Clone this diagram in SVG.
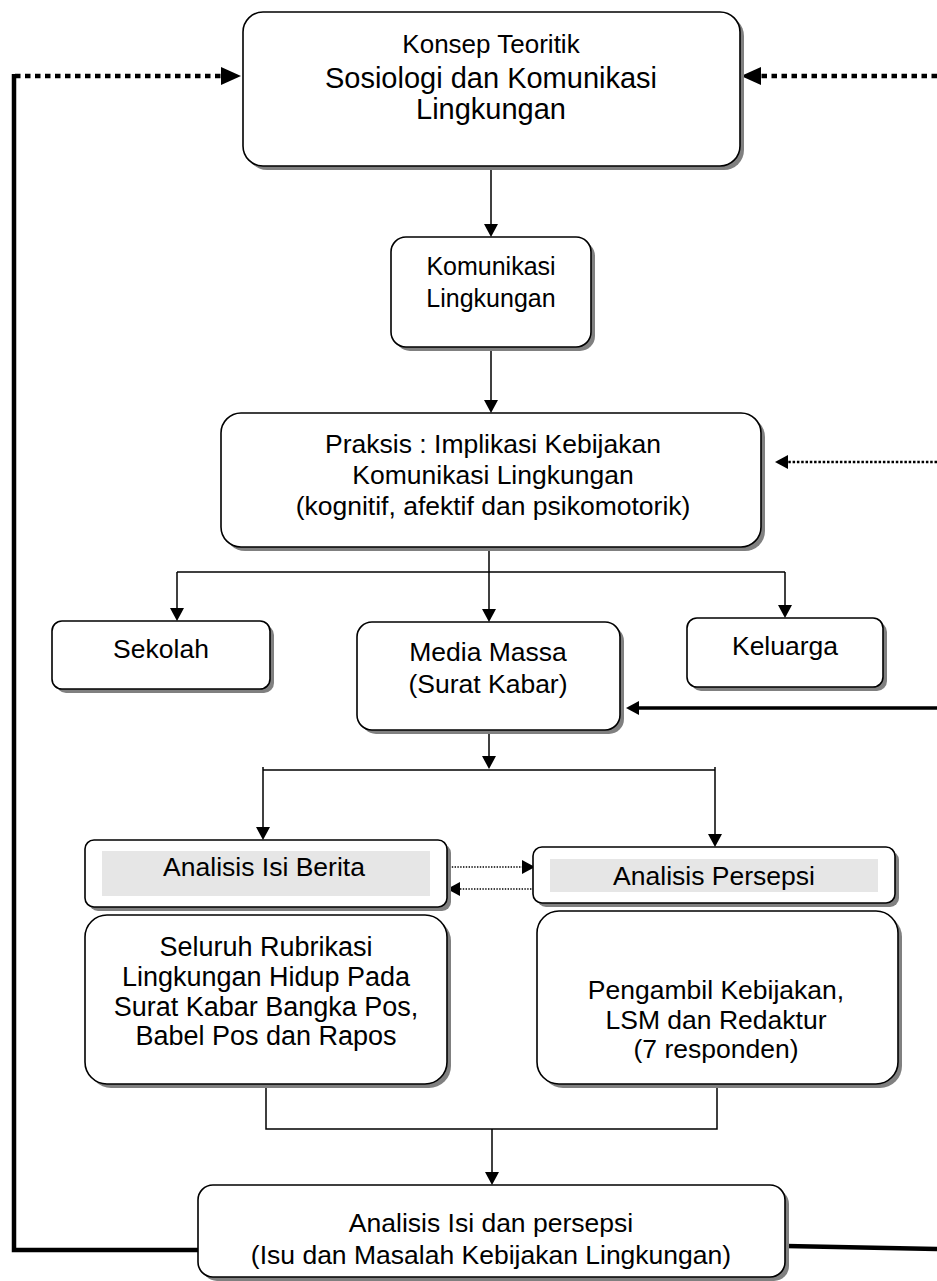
<svg xmlns="http://www.w3.org/2000/svg" width="937" height="1281" viewBox="0 0 937 1281">
<style>
  .box { fill: #ffffff; stroke: #000000; stroke-width: 1.6; }
  .shadow { fill: #808080; stroke: none; }
  .label { fill: #e6e6e6; stroke: none; }
  text { font-family: "Liberation Sans", Arial, sans-serif; fill: #000000; text-anchor: middle; }
  .conn { fill: none; stroke: #000000; stroke-width: 1.5; }
  .thick { fill: none; stroke: #000000; stroke-width: 4.5; }
  .thick3 { fill: none; stroke: #000000; stroke-width: 3.5; }
  .bigdot { fill: none; stroke: #000000; stroke-width: 4.5; stroke-dasharray: 5.5 4.5; }
  .middot { fill: none; stroke: #000000; stroke-width: 2.5; stroke-dasharray: 2.5 1.8; }
  .smalldot { fill: none; stroke: #000000; stroke-width: 1.4; stroke-dasharray: 1.4 1.4; }
</style>
<defs>
  <marker id="arr" markerUnits="userSpaceOnUse" markerWidth="14" markerHeight="14" refX="1" refY="7" orient="auto" overflow="visible">
    <path d="M0,0 L13,7 L0,14 Z" fill="#000000"/>
  </marker>
  <marker id="arrBig" markerUnits="userSpaceOnUse" markerWidth="20" markerHeight="18" refX="1" refY="9" orient="auto" overflow="visible">
    <path d="M0,0 L20,9 L0,18 Z" fill="#000000"/>
  </marker>
</defs>

<g id="connectors">
  <path class="conn" d="M491,166 V225" marker-end="url(#arr)"/>
  <path class="conn" d="M491,347 V401" marker-end="url(#arr)"/>
  <path class="conn" d="M489,547 V610" marker-end="url(#arr)"/>
  <path class="conn" d="M177,572 H785"/>
  <path class="conn" d="M177,572 V609" marker-end="url(#arr)"/>
  <path class="conn" d="M785,572 V606" marker-end="url(#arr)"/>
  <path class="conn" d="M489,730 V757" marker-end="url(#arr)"/>
  <path class="conn" d="M263,770 H715"/>
  <path class="conn" d="M263,767 V828" marker-end="url(#arr)"/>
  <path class="conn" d="M715,767 V835" marker-end="url(#arr)"/>
  <path class="conn" d="M266,1084 V1129 H717 V1084"/>
  <path class="conn" d="M492,1129 V1173" marker-end="url(#arr)"/>
  <path class="bigdot" d="M15,76 H222" marker-end="url(#arrBig)"/>
  <path class="bigdot" d="M937,76 H760" marker-end="url(#arrBig)"/>
  <path class="thick" d="M14,74 V1250 H198"/>
  <path class="thick" d="M786,1246 L937,1249"/>
  <path class="thick3" d="M937,708 H638" marker-end="url(#arr)"/>
  <path class="middot" d="M937,462 H787" marker-end="url(#arr)"/>
  <path class="smalldot" d="M449,867 H523" marker-end="url(#arr)"/>
  <path class="smalldot" d="M537,889 H459" marker-end="url(#arr)"/>
</g>

<g id="konsep-teoritik">
  <rect class="shadow" x="247" y="16" width="497" height="154" rx="20"/>
  <rect class="box" x="243" y="12" width="497" height="154" rx="20"/>
  <text x="491" y="53" font-size="26">Konsep Teoritik</text>
  <text x="491" y="88" font-size="29">Sosiologi dan Komunikasi</text>
  <text x="491" y="119" font-size="29">Lingkungan</text>
</g>

<g id="komunikasi-lingkungan">
  <rect class="shadow" x="395" y="241" width="200" height="110" rx="15"/>
  <rect class="box" x="391" y="237" width="200" height="110" rx="15"/>
  <text x="491" y="275" font-size="25">Komunikasi</text>
  <text x="491" y="307" font-size="25">Lingkungan</text>
</g>

<g id="praksis">
  <rect class="shadow" x="225" y="417" width="540" height="134" rx="20"/>
  <rect class="box" x="221" y="413" width="540" height="134" rx="20"/>
  <text x="493" y="453" font-size="26.5">Praksis : Implikasi Kebijakan</text>
  <text x="493" y="484" font-size="26.5">Komunikasi Lingkungan</text>
  <text x="493" y="515" font-size="26.5">(kognitif, afektif dan psikomotorik)</text>
</g>

<g id="sekolah">
  <rect class="shadow" x="56" y="625" width="218" height="68" rx="10"/>
  <rect class="box" x="52" y="621" width="218" height="68" rx="10"/>
  <text x="161" y="658" font-size="26.5">Sekolah</text>
</g>

<g id="media-massa">
  <rect class="shadow" x="361" y="626" width="263" height="108" rx="15"/>
  <rect class="box" x="357" y="622" width="263" height="108" rx="15"/>
  <text x="488" y="661" font-size="26.5">Media Massa</text>
  <text x="488" y="693" font-size="26.5">(Surat Kabar)</text>
</g>

<g id="keluarga">
  <rect class="shadow" x="691" y="622" width="196" height="69" rx="10"/>
  <rect class="box" x="687" y="618" width="196" height="69" rx="10"/>
  <text x="785" y="655" font-size="26.5">Keluarga</text>
</g>

<g id="analisis-isi-berita">
  <rect class="shadow" x="89" y="844" width="362" height="67" rx="9"/>
  <rect class="box" x="85" y="840" width="362" height="67" rx="9"/>
  <rect class="label" x="102" y="851" width="328" height="45"/>
  <text x="264" y="876" font-size="26.5">Analisis Isi Berita</text>
</g>

<g id="analisis-persepsi">
  <rect class="shadow" x="537" y="851" width="362" height="56" rx="9"/>
  <rect class="box" x="533" y="847" width="362" height="56" rx="9"/>
  <rect class="label" x="550" y="859" width="328" height="33"/>
  <text x="714" y="885" font-size="26.5">Analisis Persepsi</text>
</g>

<g id="rubrikasi">
  <rect class="shadow" x="89" y="919" width="362" height="169" rx="22"/>
  <rect class="box" x="85" y="915" width="362" height="169" rx="22"/>
  <text x="266" y="956" font-size="27">Seluruh Rubrikasi</text>
  <text x="266" y="986" font-size="27">Lingkungan Hidup Pada</text>
  <text x="266" y="1016" font-size="27">Surat Kabar Bangka Pos,</text>
  <text x="266" y="1045" font-size="27">Babel Pos dan Rapos</text>
</g>

<g id="pengambil-kebijakan">
  <rect class="shadow" x="541" y="915" width="361" height="173" rx="22"/>
  <rect class="box" x="537" y="911" width="361" height="173" rx="22"/>
  <text x="716" y="999" font-size="26.5">Pengambil Kebijakan,</text>
  <text x="716" y="1029" font-size="26.5">LSM dan Redaktur</text>
  <text x="716" y="1058" font-size="26.5">(7 responden)</text>
</g>

<g id="analisis-isi-persepsi">
  <rect class="shadow" x="202" y="1189" width="587" height="92" rx="15"/>
  <rect class="box" x="198" y="1185" width="587" height="92" rx="15"/>
  <text x="491" y="1232" font-size="26.5">Analisis Isi dan persepsi</text>
  <text x="491" y="1264" font-size="26.5">(Isu dan Masalah Kebijakan Lingkungan)</text>
</g>
</svg>
